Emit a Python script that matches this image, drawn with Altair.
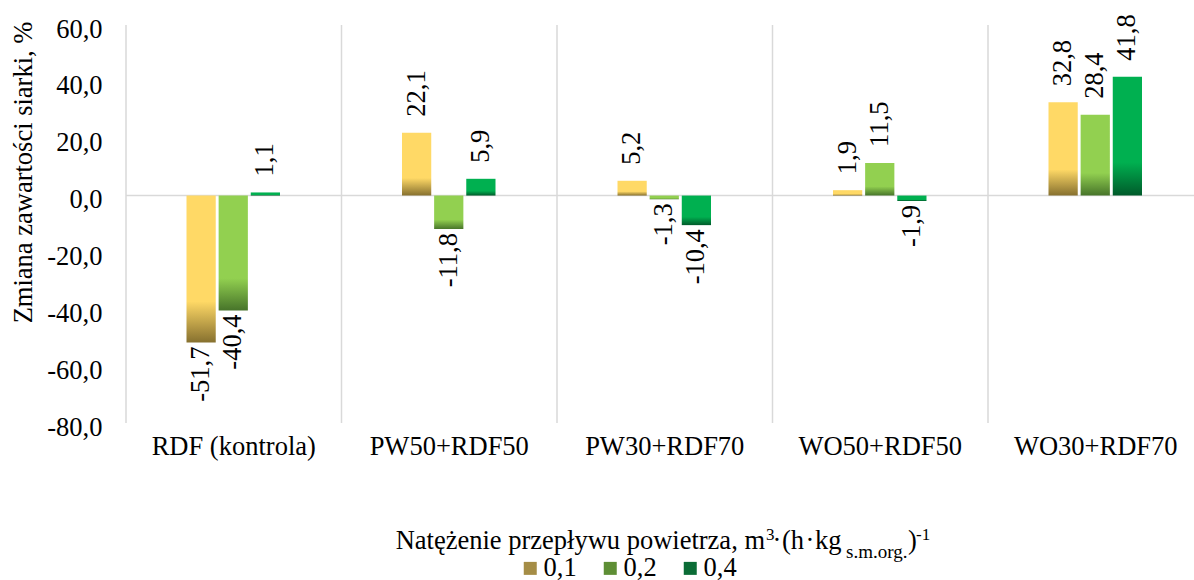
import altair as alt
import pandas as pd

# ---- data ---------------------------------------------------------------
categories = ["RDF (kontrola)", "PW50+RDF50", "PW30+RDF70", "WO50+RDF50", "WO30+RDF70"]
series = ["0,1", "0,2", "0,4"]
values_01 = [-51.7, 22.1, 5.2, 1.9, 32.8]
values_02 = [-40.4, -11.8, -1.3, 11.5, 28.4]
values_04 = [1.1, 5.9, -10.4, -1.9, 41.8]
y_ticks = [-80, -60, -40, -20, 0, 20, 40, 60]

rows = []
for s, vals in zip(series, [values_01, values_02, values_04]):
    for c, v in zip(categories, vals):
        rows.append({"kategoria": c, "seria": s, "wartosc": v})
df = pd.DataFrame(rows)

# ---- style --------------------------------------------------------------
FONT = "Liberation Serif"
FS = 26.5
W, H = 1068, 398
X_RANGE = 1077.5
GRID = "#D9D9D9"

light = {"0,1": "#FFD966", "0,2": "#92D050", "0,4": "#00B050"}
dark = {"0,1": "#86702F", "0,2": "#47742A", "0,4": "#005A2A"}
legend_colors = ["#A58D46", "#5E8E35", "#0B6C36"]


def fill_for(s):
    return alt.LinearGradient(
        gradient="linear",
        stops=[
            alt.GradientStop(color=light[s], offset=0),
            alt.GradientStop(color=light[s], offset=0.72),
            alt.GradientStop(color=dark[s], offset=1),
        ],
        x1=0, x2=0, y1=0, y2=1,
    )


comma_fmt = "replace(replace(format({v}, '.1f'), '.', ','), '\u2212', '-')"

x_scale = alt.Scale(domain=categories, range=[0, X_RANGE], paddingInner=0, paddingOuter=0)
x_axis = alt.Axis(
    title=None, labelAngle=0, labelAlign="center", domain=False, ticks=False,
    grid=False, labelFont=FONT, labelFontSize=FS, labelColor="black",
    labelPadding=10, bandPosition=0.5,
)
x_enc = alt.X("kategoria:N", sort=categories, scale=x_scale, axis=x_axis)
xo_enc = alt.XOffset(
    "seria:N",
    sort=series,
    scale=alt.Scale(domain=series, range=[60.5, 154], paddingInner=0.09, paddingOuter=0),
)
y_scale = alt.Scale(domain=[-80, 60], nice=False, zero=False)
y_axis = alt.Axis(
    values=y_ticks, labelExpr=comma_fmt.format(v="datum.value"),
    labelFont=FONT, labelFontSize=FS, labelColor="black", labelPadding=24,
    labelOffset=4, ticks=False, domain=False, grid=False,
    title="Zmiana zawartości siarki, %", titleFont=FONT, titleFontSize=FS,
    titleFontWeight="normal", titleColor="black", titleAngle=270,
    titleX=-103, titleY=147, titleAlign="center", titleBaseline="middle",
)
y_enc = alt.Y("wartosc:Q", scale=y_scale, axis=y_axis)

base = alt.Chart(df)

# category separators and the zero line
separators = alt.Chart(pd.DataFrame({"kategoria": categories})).mark_rule(
    color=GRID, strokeWidth=1.5
).encode(
    x=alt.X("kategoria:N", sort=categories, bandPosition=0, scale=x_scale, axis=x_axis),
    y=alt.value(0), y2=alt.value(H),
)
zero_line = alt.Chart(pd.DataFrame({"wartosc": [0]})).mark_rule(
    color=GRID, strokeWidth=1.5
).encode(y=y_enc, x=alt.value(0), x2=alt.value(W + 10))

# bars, one layer per airflow rate so each gets its own gradient
bars = [
    base.transform_filter(alt.datum.seria == s)
    .mark_bar(fill=fill_for(s))
    .encode(x=x_enc, xOffset=xo_enc, y=y_enc)
    for s in series
]

# invisible layer that carries the legend
legend_layer = base.mark_bar(opacity=0).encode(
    x=x_enc, xOffset=xo_enc, y=y_enc,
    color=alt.Color(
        "seria:N",
        sort=series,
        scale=alt.Scale(domain=series, range=legend_colors),
        legend=alt.Legend(
            orient="none", legendX=391, legendY=530, direction="horizontal",
            title=None, symbolType="square", symbolSize=169, symbolStrokeWidth=0,
            symbolOpacity=1, labelFont=FONT, labelFontSize=FS, labelColor="black",
            labelOffset=0, columnPadding=20, padding=0,
        ),
    ),
)

# rotated value labels
labelled = base.transform_calculate(etykieta=comma_fmt.format(v="datum.wartosc"))
pos_labels = labelled.transform_filter(alt.datum.wartosc >= 0).mark_text(
    angle=270, align="left", baseline="middle", dx=16,
    font=FONT, fontSize=FS, color="black",
).encode(x=x_enc, xOffset=xo_enc, y=y_enc, text="etykieta:N")
neg_labels = labelled.transform_filter(alt.datum.wartosc < 0).mark_text(
    angle=270, align="right", baseline="middle", dx=-4,
    font=FONT, fontSize=FS, color="black",
).encode(x=x_enc, xOffset=xo_enc, y=y_enc, text="etykieta:N")


# legend title with super- and subscripts, assembled from pieces
def piece(text, px, py, size, align="left"):
    return alt.Chart(alt.InlineData(values=[{}])).mark_text(
        text=text, align=align, baseline="alphabetic",
        font=FONT, fontSize=size, color="black",
    ).encode(x=alt.value(px - 126), y=alt.value(py - 25))


title_pieces = [
    piece("Natężenie przepływu powietrza, m", 765, 549, FS, "right"),
    piece("3", 766, 540, 17),
    piece("·", 777, 549, FS, "center"),
    piece("(h", 782, 549, FS),
    piece("·", 810, 549, FS, "center"),
    piece("kg", 815, 549, FS),
    piece("s.m.org.", 846, 558, 19),
    piece(")", 908, 549, FS),
    piece("-1", 916, 540, 17),
]

chart = alt.layer(
    separators, zero_line, *bars, legend_layer, pos_labels, neg_labels, *title_pieces
).properties(
    width=W, height=H,
    autosize=alt.AutoSizeParams(type="none"),
    padding={"left": 126, "top": 25, "right": 0, "bottom": 157},
    background="white",
).configure_view(stroke=None)

chart.save("out.html", embed_options={"renderer": "svg", "actions": False})
